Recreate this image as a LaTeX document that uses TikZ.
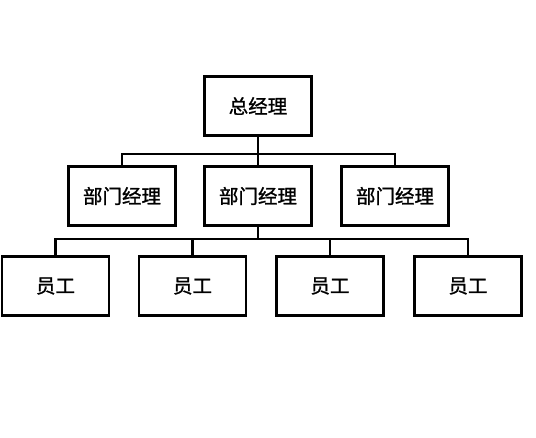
\documentclass[tikz,border=0pt]{standalone}
\usepackage{fontspec}
\newfontfamily\cjk[FakeBold=1.2]{Noto Sans CJK SC}
\begin{document}
\begin{tikzpicture}[x=1pt,y=-1pt,
  box/.style={draw=black,line width=2.8pt,fill=white,minimum width=107pt,minimum height=59pt,inner sep=0pt,outer sep=0pt,font=\cjk\fontsize{19.5}{22}\selectfont},
  conn/.style={draw=black,line width=2.6pt}]
\useasboundingbox[fill=white] (0,0) rectangle (536,438);
\node[box] (top) at (258,106) {总经理};
\node[box] (m1) at (122,196) {部门经理};
\node[box] (m2) at (258,196) {部门经理};
\node[box] (m3) at (395,196) {部门经理};
\node[box] (e1) at (55.5,286) {员工};
\node[box] (e2) at (192.5,286) {员工};
\node[box] (e3) at (330,286) {员工};
\node[box] (e4) at (468,286) {员工};
\coordinate (b1) at (258,154);
\coordinate (b2) at (258,239);
\draw[conn] (top.south) -- (b1) -- (m2.north);
\draw[conn] (m1.north) |- (b1) -| (m3.north);
\draw[conn] (m2.south) -- (b2);
\draw[conn] (e1.north) |- (b2) -| (e4.north);
\draw[conn] (e2.north) -- (e2.north |- b2);
\draw[conn] (e3.north) -- (e3.north |- b2);
\end{tikzpicture}
\end{document}
